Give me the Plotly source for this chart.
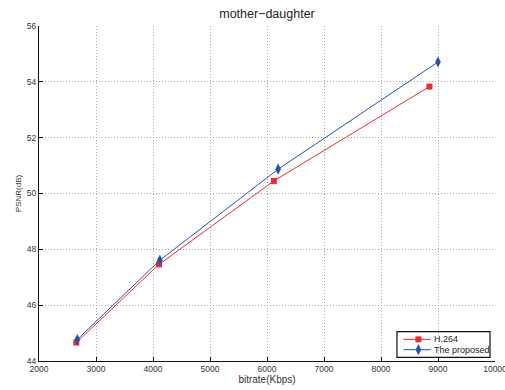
import plotly.graph_objects as go

h264_x = [2655, 4105, 6120, 8850]
h264_y = [44.66, 47.46, 50.45, 53.83]
prop_x = [2672, 4120, 6195, 9000]
prop_y = [44.77, 47.61, 50.87, 54.71]
x_ticks = [2000, 3000, 4000, 5000, 6000, 7000, 8000, 9000, 10000]
y_ticks = [44, 46, 48, 50, 52, 54, 56]
series_names = ["H.264", "The proposed"]

RED = "#ee2a30"
BLUE = "#2752aa"
FONT = "Liberation Sans, Arial, sans-serif"
TXT = "#333333"

fig = go.Figure()
fig.add_trace(go.Scatter(x=h264_x, y=h264_y, mode="lines+markers", name=series_names[0],
                         line=dict(color=RED, width=1),
                         marker=dict(symbol="square", size=6, color=RED)))
fig.add_trace(go.Scatter(x=prop_x, y=prop_y, mode="lines+markers", name=series_names[1],
                         line=dict(color=BLUE, width=1),
                         marker=dict(symbol="diamond-tall", size=8, color=BLUE)))

axis_common = dict(showgrid=True, gridcolor="#aaaaaa", griddash="1px,2px", gridwidth=1,
                   showline=True, linecolor="#111111", linewidth=1,
                   ticks="inside", ticklen=4, tickcolor="#111111",
                   tickfont=dict(size=8.5, color=TXT, family=FONT),
                   zeroline=False, ticklabeloverflow="allow", automargin=False)

fig.update_xaxes(range=[2000, 10000], tickvals=x_ticks, ticktext=[str(v) for v in x_ticks],
                 title=dict(text="bitrate(Kbps)", font=dict(size=10, color=TXT, family=FONT), standoff=1),
                 **axis_common)
fig.update_yaxes(range=[44, 56], tickvals=y_ticks, ticktext=[str(v) for v in y_ticks],
                 title=dict(text="PSNR(dB)", font=dict(size=8, color=TXT, family=FONT), standoff=4),
                 **axis_common)

# custom MATLAB-like legend (paper coordinates)
lx0, lx1, ly0, ly1 = 0.785, 0.989, 0.011, 0.0875
fig.add_shape(type="rect", xref="paper", yref="paper", x0=lx0, x1=lx1, y0=ly0, y1=ly1,
              line=dict(color="#111111", width=1.2), fillcolor="white", layer="between")
entries = [(series_names[0], RED, "square", 6, 0.0646),
           (series_names[1], BLUE, "diamond-tall", 8, 0.0337)]
for name, col, sym, sz, yy in entries:
    fig.add_trace(go.Scatter(x=[0.799, 0.859], y=[yy, yy], xaxis="x2", yaxis="y2", mode="lines",
                             line=dict(color=col, width=1), showlegend=False,
                             hoverinfo="skip", cliponaxis=False))
    fig.add_trace(go.Scatter(x=[0.832], y=[yy], xaxis="x2", yaxis="y2", mode="markers",
                             marker=dict(symbol=sym, size=sz, color=col), showlegend=False,
                             hoverinfo="skip", cliponaxis=False))
    fig.add_annotation(xref="paper", yref="paper", x=0.862, y=yy, text=name, showarrow=False,
                       xanchor="left", yanchor="middle", font=dict(size=9, color="#222222", family=FONT))

fig.update_layout(
    width=505, height=390,
    margin=dict(l=39, r=10, t=26, b=29),
    paper_bgcolor="white", plot_bgcolor="white",
    xaxis2=dict(overlaying="x", range=[0, 1], visible=False, fixedrange=True),
    yaxis2=dict(overlaying="y", range=[0, 1], visible=False, fixedrange=True),
    title=dict(text="mother\u2212daughter", x=(39 + 495) / 2 / 505, xanchor="center",
               y=1 - 14 / 390, yanchor="middle",
               font=dict(size=12.5, color="#222222", family=FONT)),
    showlegend=False,
)

fig.write_html("out.html")
